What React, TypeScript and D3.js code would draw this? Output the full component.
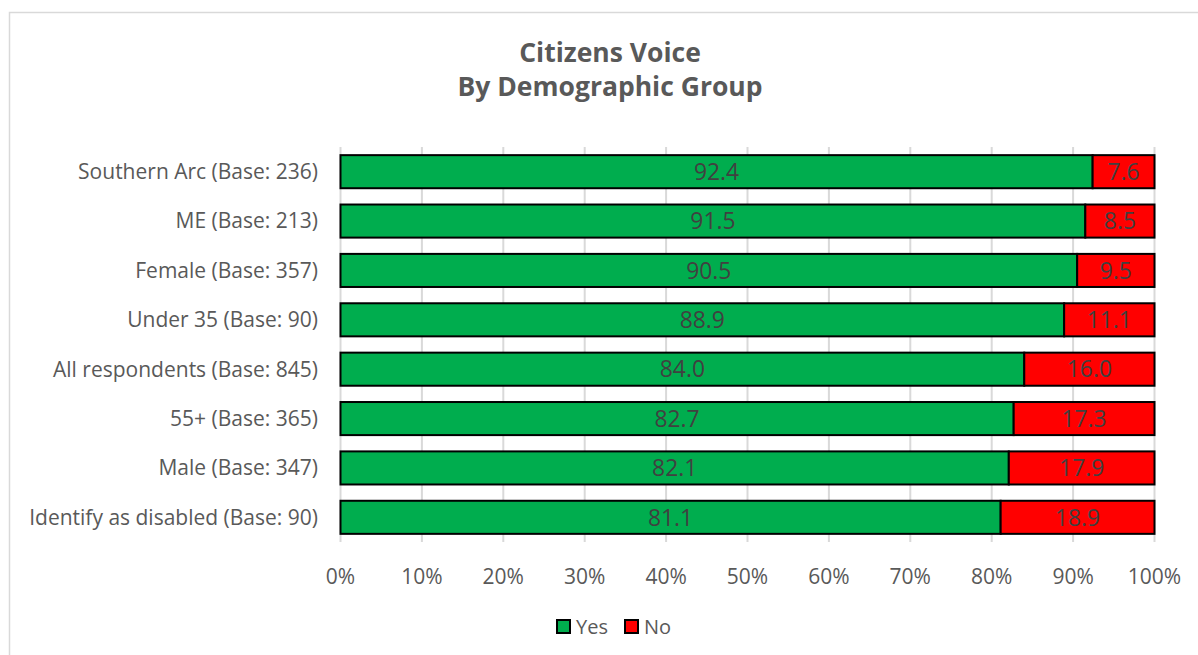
import React from "react";
import * as d3 from "d3";

const categories = [
  "Southern Arc (Base: 236)",
  "ME (Base: 213)",
  "Female (Base: 357)",
  "Under 35 (Base: 90)",
  "All respondents (Base: 845)",
  "55+ (Base: 365)",
  "Male (Base: 347)",
  "Identify as disabled (Base: 90)",
];
const yesValues = [92.4, 91.5, 90.5, 88.9, 84.0, 82.7, 82.1, 81.1];
const noValues = [7.6, 8.5, 9.5, 11.1, 16.0, 17.3, 17.9, 18.9];
const xTicks = [0, 10, 20, 30, 40, 50, 60, 70, 80, 90, 100];
const seriesNames = ["Yes", "No"];
const seriesColors = ["#00AD4E", "#FF0000"];
const titleLines = ["Citizens Voice", "By Demographic Group"];

const W = 1198;
const H = 655;
const FONT = "'Open Sans', sans-serif";

export default function App() {
  const x = d3.scaleLinear().domain([0, 100]).range([340.5, 1154.5]);
  const y = d3.scaleBand<string>().domain(categories).range([147, 542]).paddingInner(0.33).paddingOuter(0.165);
  const bh = y.bandwidth();

  const series = [yesValues, noValues];

  return (
    <svg width={W} height={H} style={{ position: "absolute", left: 0, top: 0 }}>
      <rect x={0} y={0} width={W} height={H} fill="#fff" />
      <rect x={9.5} y={12.5} width={W} height={H} fill="#fff" stroke="#d9d9d9" strokeWidth={1.5} />
      {titleLines.map((t, i) => (
        <text key={t} x={610} y={62 + i * 34} textAnchor="middle" fontFamily={FONT} fontWeight="bold" fontSize={26.5} fill="#595959">
          {t}
        </text>
      ))}
      {xTicks.map((t) => (
        <g key={t}>
          <line x1={x(t)} x2={x(t)} y1={147} y2={542} stroke="#d9d9d9" strokeWidth={2} />
          <text x={x(t)} y={584} textAnchor="middle" fontFamily={FONT} fontSize={21} fill="#595959">
            {t}%
          </text>
        </g>
      ))}
      {categories.map((c, i) => {
        let acc = 0;
        return (
          <g key={c}>
            <text x={318} y={(y(c) as number) + bh / 2} dy="0.35em" textAnchor="end" fontFamily={FONT} fontSize={21} fill="#595959">
              {c}
            </text>
            {series.map((vals, s) => {
              const v = vals[i];
              const x0 = x(acc);
              const x1 = x(acc + v);
              acc += v;
              return (
                <g key={s}>
                  <rect x={x0} y={y(c)} width={x1 - x0} height={bh} fill={seriesColors[s]} stroke="#000" strokeWidth={2} />
                  <text x={(x0 + x1) / 2} y={(y(c) as number) + bh / 2} dy="0.36em" textAnchor="middle" fontFamily={FONT} fontSize={22.8} fill="#404040">
                    {v.toFixed(1)}
                  </text>
                </g>
              );
            })}
          </g>
        );
      })}
      {seriesNames.map((n, i) => {
        const lx = 557 + i * 68;
        return (
          <g key={n}>
            <rect x={lx} y={620} width={13} height={13} fill={seriesColors[i]} stroke="#000" strokeWidth={2} />
            <text x={lx + 19} y={627} dy="0.35em" fontFamily={FONT} fontSize={20} fill="#595959">
              {n}
            </text>
          </g>
        );
      })}
    </svg>
  );
}
